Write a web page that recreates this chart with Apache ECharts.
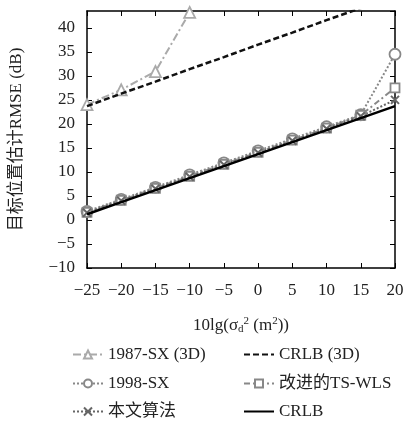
<!DOCTYPE html>
<html><head><meta charset="utf-8">
<script src="https://cdn.jsdelivr.net/npm/echarts@6/dist/echarts.min.js"></script>
<style>html,body{margin:0;padding:0;background:#fff}#c{width:409px;height:421px}</style>
</head><body><div id="c"></div>
<script>
const xValues = [-25, -20, -15, -10, -5, 0, 5, 10, 15, 20];
const sx1987 = [24.0, 27.1, 30.9, 43.2];
const crlb3d = [23.7, 26.3, 28.8, 31.4, 33.9, 36.5, 39.0, 41.6, 44.1, 46.7];
const sx1998 = [1.8, 4.3, 6.8, 9.4, 11.9, 14.4, 16.9, 19.4, 21.9, 34.5];
const tswls = [1.6, 4.1, 6.6, 9.1, 11.6, 14.1, 16.6, 19.1, 21.8, 27.5];
const proposed = [1.5, 4.0, 6.5, 9.0, 11.5, 14.0, 16.5, 19.0, 21.6, 25.0];
const crlb = [1.2, 3.7, 6.2, 8.7, 11.2, 13.7, 16.2, 18.7, 21.2, 23.7];
const names = ['1987-SX (3D)', 'CRLB (3D)', '1998-SX', '改进的TS-WLS', '本文算法', 'CRLB'];

const pair = arr => arr.map((v, i) => [xValues[i], v]);
const FONT = '"Liberation Serif", "DejaVu Serif", "Noto Sans CJK SC", serif';
const fmt = v => String(v).replace('-', '\u2212');

const chart = echarts.init(document.getElementById('c'), null, {renderer: 'canvas'});
const axisLine = {show: true, onZero: false, lineStyle: {color: '#000', width: 1.5}};
const tick = {inside: true, length: 5, lineStyle: {color: '#000'}};
const legendPos = [[72, 346], [243, 346], [72, 375], [243, 375], [72, 403], [243, 403]];
const legends = names.map((n, i) => ({
  left: legendPos[i][0], top: legendPos[i][1], itemWidth: 30, itemHeight: 10, padding: 0,
  data: [(i === 1 || i === 5) ? {name: n, itemStyle: {opacity: 0}} : n],
  textStyle: {fontFamily: FONT, fontSize: 17, color: '#222'}
}));
const option = {
  animation: false,
  backgroundColor: '#fff',
  grid: {left: 86, right: 14, top: 11, bottom: 153, containLabel: false},
  xAxis: [{
    type: 'value', min: -25, max: 20, interval: 5,
    axisLine, splitLine: {show: false}, axisTick: tick,
    axisLabel: {fontFamily: FONT, fontSize: 17, color: '#222', margin: 14, formatter: fmt},
    name: '{a|10lg(σ}{s|d}{p|2}{a| (m}{p|2}{a|))}', nameLocation: 'middle', nameGap: 48,
    nameTextStyle: {rich: {
      a: {fontFamily: FONT, fontSize: 17, color: '#222'},
      s: {fontFamily: FONT, fontSize: 11, color: '#222', verticalAlign: 'bottom', padding: [8, 0, 0, 0]},
      p: {fontFamily: FONT, fontSize: 11, color: '#222', verticalAlign: 'top', padding: [0, 0, 8, 0]}
    }}
  }, {
    type: 'value', min: -25, max: 20, interval: 5, position: 'top',
    axisLine, splitLine: {show: false}, axisTick: tick, axisLabel: {show: false}
  }],
  yAxis: [{
    type: 'value', min: -10, max: 43.5, interval: 5,
    axisLine, splitLine: {show: false}, axisTick: tick,
    axisLabel: {fontFamily: FONT, fontSize: 17, color: '#222', margin: 12, formatter: fmt, showMaxLabel: false},
    name: '目标位置估计RMSE (dB)', nameLocation: 'middle', nameGap: 62, nameRotate: 90,
    nameTextStyle: {fontFamily: FONT, fontSize: 17, color: '#222'}
  }, {
    type: 'value', min: -10, max: 43.5, interval: 5, position: 'right',
    axisLine, splitLine: {show: false}, axisTick: tick, axisLabel: {show: false}
  }],
  legend: legends,
  series: [
    {name: names[0], type: 'line', data: pair(sx1987), symbol: 'triangle', symbolSize: 11,
     lineStyle: {color: '#aaa', width: 2, type: [8, 3, 2, 3]},
     itemStyle: {color: '#fff', borderColor: '#aaa', borderWidth: 1.8}, color: '#aaa', z: 3},
    {name: names[1], type: 'line', data: pair(crlb3d), symbol: 'none',
     lineStyle: {color: '#111', width: 2.5, type: [6, 3]}, color: '#111', z: 4},
    {name: names[2], type: 'line', data: pair(sx1998), symbol: 'circle', symbolSize: 11,
     lineStyle: {color: '#888', width: 2, type: [2, 2]},
     itemStyle: {color: '#fff', borderColor: '#888', borderWidth: 1.8}, color: '#888', z: 3},
    {name: names[3], type: 'line', data: pair(tswls), symbol: 'rect', symbolSize: 9,
     lineStyle: {color: '#888', width: 2, type: [6, 3, 2, 3]},
     itemStyle: {color: '#fff', borderColor: '#888', borderWidth: 1.8}, color: '#888', z: 3},
    {name: names[4], type: 'line', data: pair(proposed),
     symbol: 'path://M0,0 L10,10 M10,0 L0,10', symbolSize: 8,
     lineStyle: {color: '#666', width: 2, type: [2, 2]},
     itemStyle: {color: '#666', borderColor: '#666', borderWidth: 2}, color: '#666', z: 3},
    {name: names[5], type: 'line', data: pair(crlb), symbol: 'none',
     lineStyle: {color: '#000', width: 2.5, type: 'solid'}, color: '#000', z: 5}
  ]
};
chart.setOption(option);
</script></body></html>
